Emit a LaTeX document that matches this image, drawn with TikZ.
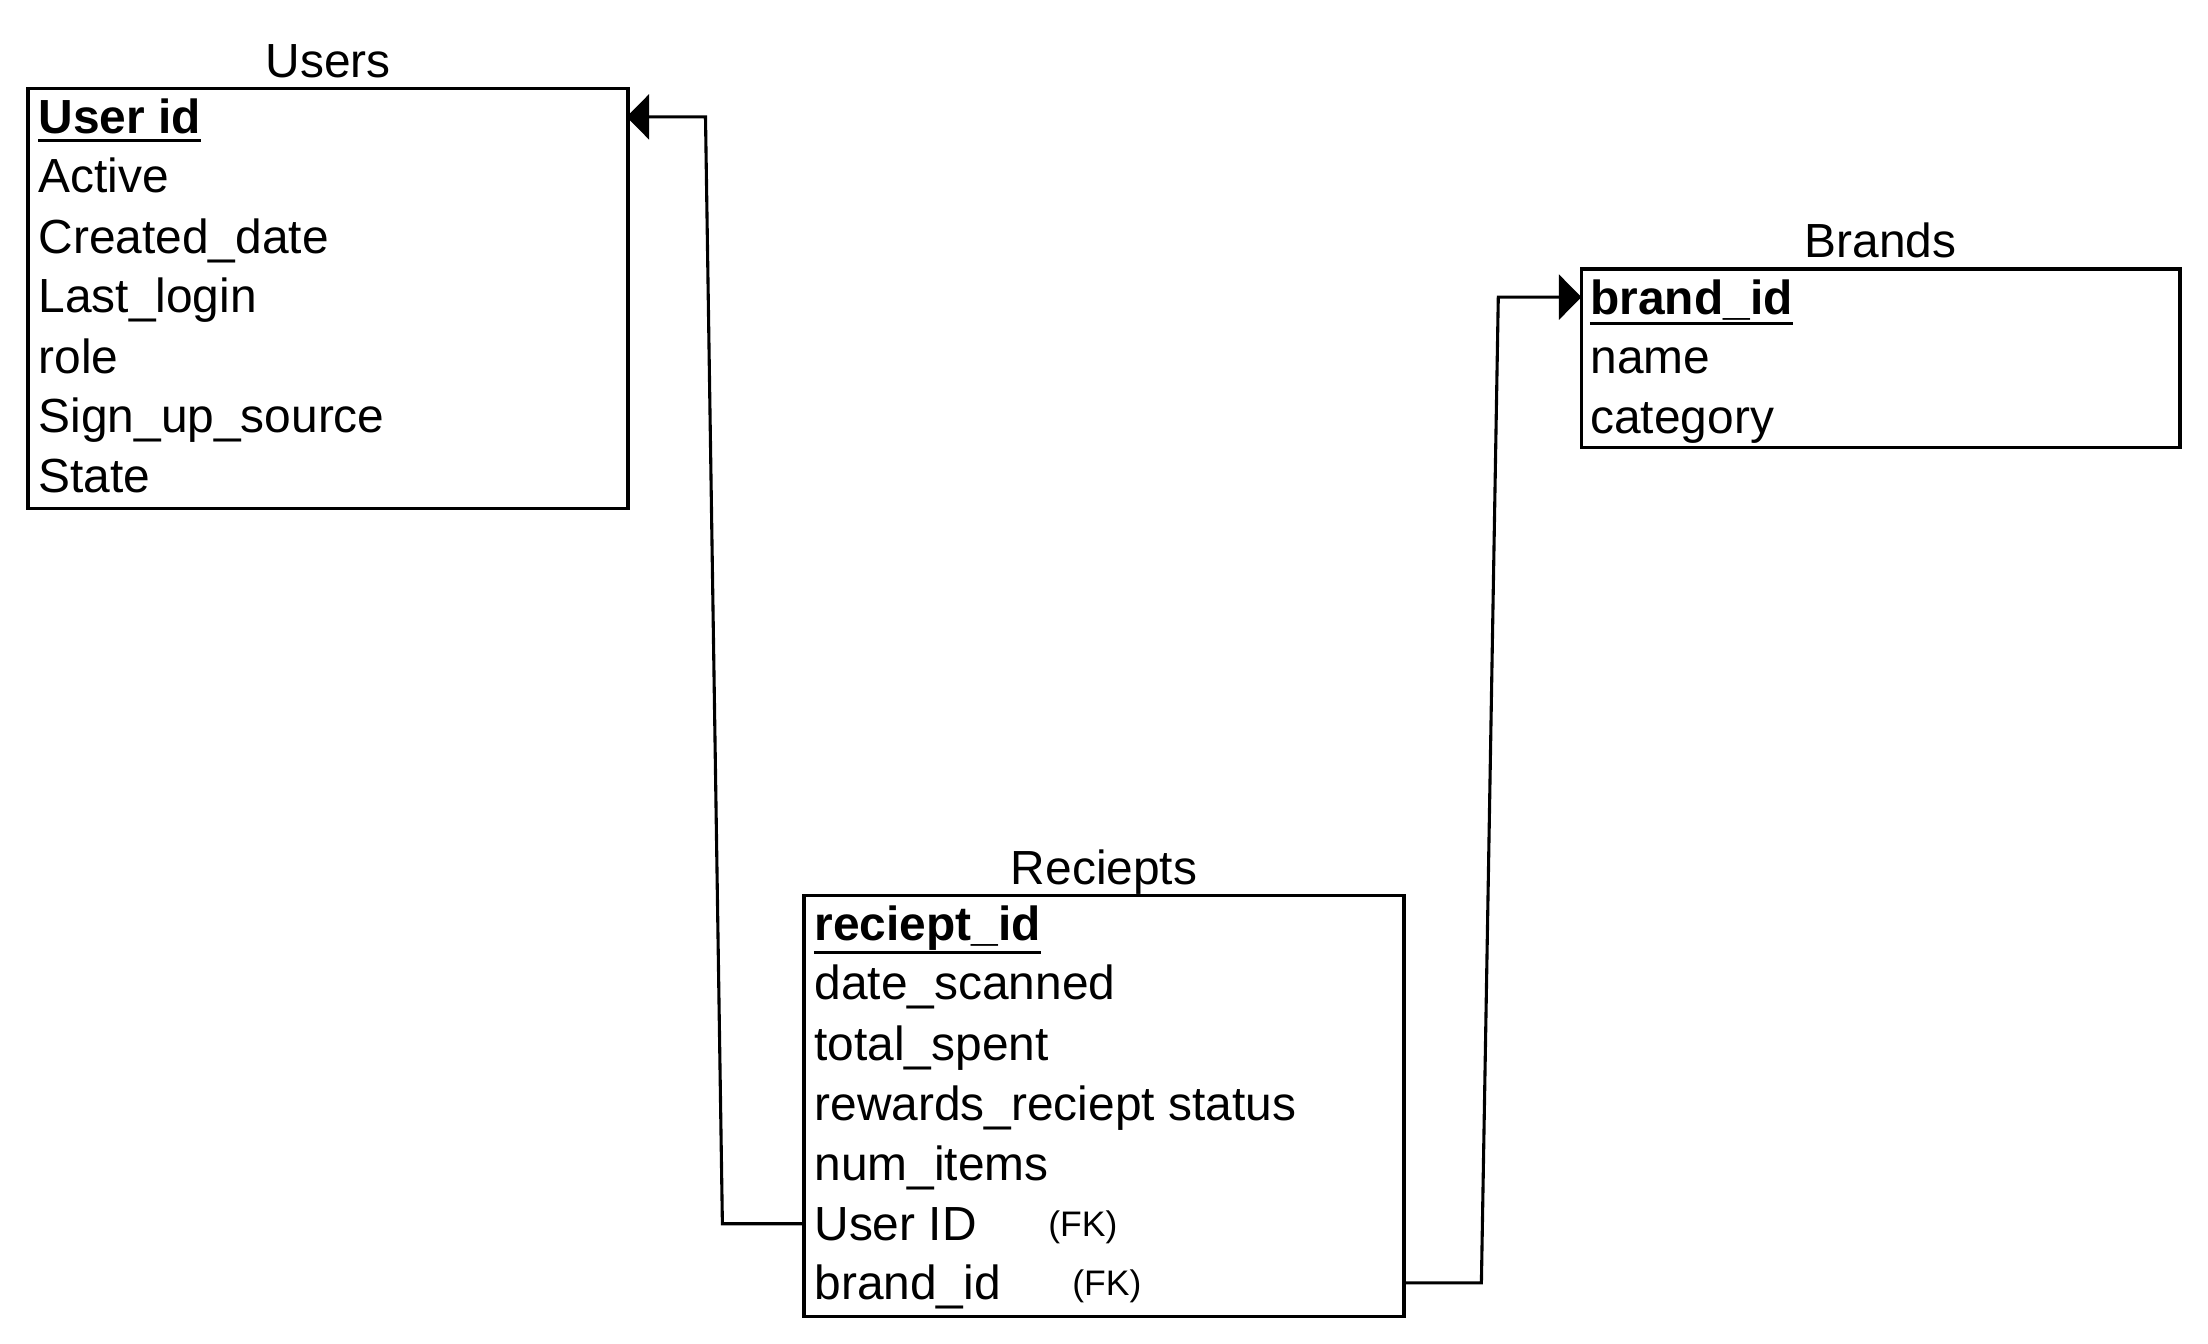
\documentclass[tikz,border=0pt]{standalone}
\usepackage{fontspec}
\setmainfont{Liberation Sans}
\usetikzlibrary{arrows.meta}
\tikzset{
  tbl/.style={draw=black, line width=1.2pt, rectangle, inner sep=0pt, outer sep=0pt},
  fld/.style={anchor=base west, inner sep=0pt, font=\fontsize{17}{20}\selectfont},
  ttl/.style={anchor=base, inner sep=0pt, font=\fontsize{17}{20}\selectfont},
  fk/.style={anchor=base, inner sep=0pt, font=\fontsize{12.6}{15}\selectfont},
  ulline/.style={draw=black, line width=1.1pt},
  rel/.style={draw=black, line width=1.1pt, line join=miter, -{Triangle[length=8pt,width=16pt]}}
}
\begin{document}
\begin{tikzpicture}[x=0.5pt,y=-0.5pt]
\useasboundingbox (0,0) rectangle (1568,954);
% Users
\node[tbl, minimum width=213pt, minimum height=149pt] (users) at (233,212) {};
\node[ttl] (usersT) at (233,55) {Users};
\node[fld] (u1) at (27,95) {\textbf{User id}};
\draw[ulline] ([yshift=-2pt]u1.south west) -- ([yshift=-2pt]u1.south east);
\node[fld] (u2) at (27,137) {Active};
\node[fld] (u3) at (27,180) {Created\_date};
\node[fld] (u4) at (27,222) {Last\_login};
\node[fld] (u5) at (27,265) {role};
\node[fld] (u6) at (27,307) {Sign\_up\_source};
\node[fld] (u7) at (27,350) {State};
% Brands
\node[tbl, minimum width=212.5pt, minimum height=63.5pt] (brands) at (1335.5,254.5) {};
\node[ttl] (brandsT) at (1335.5,183) {Brands};
\node[fld] (b1) at (1129,223) {\textbf{brand\_id}};
\draw[ulline] ([yshift=-1pt]b1.south west) -- ([yshift=-1pt]b1.south east);
\node[fld] (b2) at (1129,265) {name};
\node[fld] (b3) at (1129,308) {category};
% Reciepts
\node[tbl, minimum width=213pt, minimum height=149.5pt] (rec) at (784,785.5) {};
\node[ttl] (recT) at (784,628) {Reciepts};
\node[fld] (r1) at (578,668) {\textbf{reciept\_id}};
\draw[ulline] ([yshift=-0.5pt]r1.south west) -- ([yshift=-0.5pt]r1.south east);
\node[fld] (r2) at (578,710) {date\_scanned};
\node[fld] (r3) at (578,753) {total\_spent};
\node[fld] (r4) at (578,796) {rewards\_reciept status};
\node[fld] (r5) at (578,838) {num\_items};
\node[fld] (r6) at (578,881) {User ID};
\node[fk] (fk1) at (769,878) {(FK)};
\node[fld] (r7) at (578,923) {brand\_id};
\node[fk] (fk2) at (786,920) {(FK)};
% connector points
\coordinate (sU) at (571,869);
\coordinate (aU) at (513,869);
\coordinate (bU) at (501,83);
\coordinate (eU) at (445,83);
\coordinate (sB) at (997,911);
\coordinate (aB) at (1052,911);
\coordinate (bB) at (1064,211);
\coordinate (eB) at (1123,211);
\draw[rel] (sU) -- (aU) -- (bU) -- (eU);
\draw[rel] (sB) -- (aB) -- (bB) -- (eB);
\end{tikzpicture}
\end{document}
